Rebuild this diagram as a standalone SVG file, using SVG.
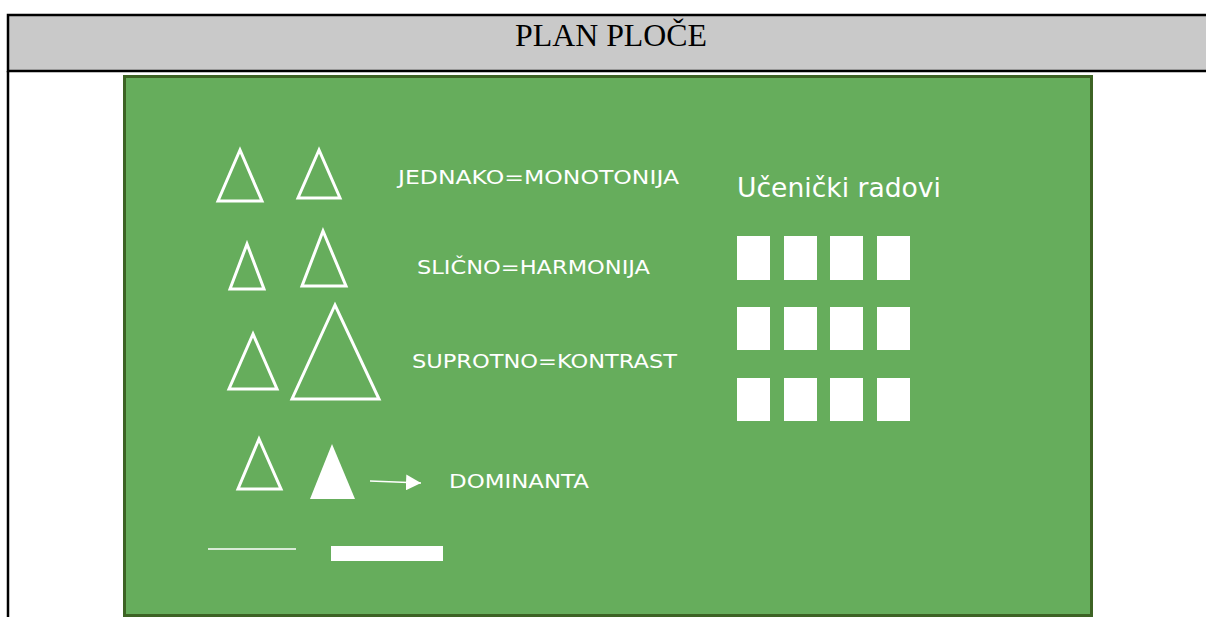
<svg xmlns="http://www.w3.org/2000/svg" width="1206" height="617" viewBox="0 0 1206 617">
<style>
.lbl{font-family:"DejaVu Sans","Liberation Sans",sans-serif;font-size:19px;fill:#ffffff;}
.tri{fill:none;stroke:#ffffff;stroke-width:3;stroke-linejoin:miter;}
.card{fill:#ffffff;}
</style>
<defs>
<marker id="ah" markerWidth="15" markerHeight="16" refX="15" refY="8" orient="auto" markerUnits="userSpaceOnUse">
<path d="M0,0 L15,8 L0,16 Z" fill="#ffffff"/>
</marker>
</defs>
<rect x="0" y="0" width="1206" height="617" fill="#ffffff"/>
<g id="header">
<rect x="8" y="15" width="1200" height="56" fill="#c9c9c9" stroke="#000000" stroke-width="2.5"/>
<line x1="8" y1="71" x2="8" y2="617" stroke="#000000" stroke-width="2.5"/>
<text x="611" y="46" text-anchor="middle" font-family="Liberation Serif, serif" font-size="32" fill="#000000" textLength="192" lengthAdjust="spacingAndGlyphs">PLAN PLOČE</text>
</g>
<g id="board">
<rect x="124.5" y="76.5" width="967" height="539" fill="#66ad5c" stroke="#3d6324" stroke-width="3"/>
</g>
<g id="triangles">
<polygon class="tri" points="240,150 218,201 262,201"/>
<polygon class="tri" points="319,150 298,198 340,198"/>
<polygon class="tri" points="247,244 230,289 264,289"/>
<polygon class="tri" points="323,231 302,286 346,286"/>
<polygon class="tri" points="253,334 229,389 277,389"/>
<polygon class="tri" points="335,305 292,399 379,399"/>
<polygon class="tri" points="259,439 238,489 281,489"/>
<polygon points="332,444 310,499 355,499" fill="#ffffff"/>
</g>
<g id="labels">
<text class="lbl" x="398" y="184" textLength="281" lengthAdjust="spacingAndGlyphs">JEDNAKO=MONOTONIJA</text>
<text class="lbl" x="417" y="274" textLength="233" lengthAdjust="spacingAndGlyphs">SLIČNO=HARMONIJA</text>
<text class="lbl" x="412" y="368" textLength="265" lengthAdjust="spacingAndGlyphs">SUPROTNO=KONTRAST</text>
<text class="lbl" x="449" y="488" textLength="140" lengthAdjust="spacingAndGlyphs">DOMINANTA</text>
<text x="737" y="197" font-family="DejaVu Sans, sans-serif" font-size="27" fill="#ffffff" textLength="204" lengthAdjust="spacingAndGlyphs">Učenički radovi</text>
</g>
<g id="connectors">
<line x1="370" y1="481" x2="421" y2="483" stroke="#ffffff" stroke-width="1.5" marker-end="url(#ah)"/>
</g>
<g id="lines">
<line x1="208" y1="549" x2="296" y2="549" stroke="#ffffff" stroke-width="1.5"/>
<rect x="331" y="546" width="112" height="15" fill="#ffffff"/>
</g>
<g id="cards">
<rect class="card" x="737" y="236" width="33" height="44"/>
<rect class="card" x="784" y="236" width="33" height="44"/>
<rect class="card" x="830" y="236" width="33" height="44"/>
<rect class="card" x="877" y="236" width="33" height="44"/>
<rect class="card" x="737" y="307" width="33" height="43"/>
<rect class="card" x="784" y="307" width="33" height="43"/>
<rect class="card" x="830" y="307" width="33" height="43"/>
<rect class="card" x="877" y="307" width="33" height="43"/>
<rect class="card" x="737" y="378" width="33" height="43"/>
<rect class="card" x="784" y="378" width="33" height="43"/>
<rect class="card" x="830" y="378" width="33" height="43"/>
<rect class="card" x="877" y="378" width="33" height="43"/>
</g>
</svg>
